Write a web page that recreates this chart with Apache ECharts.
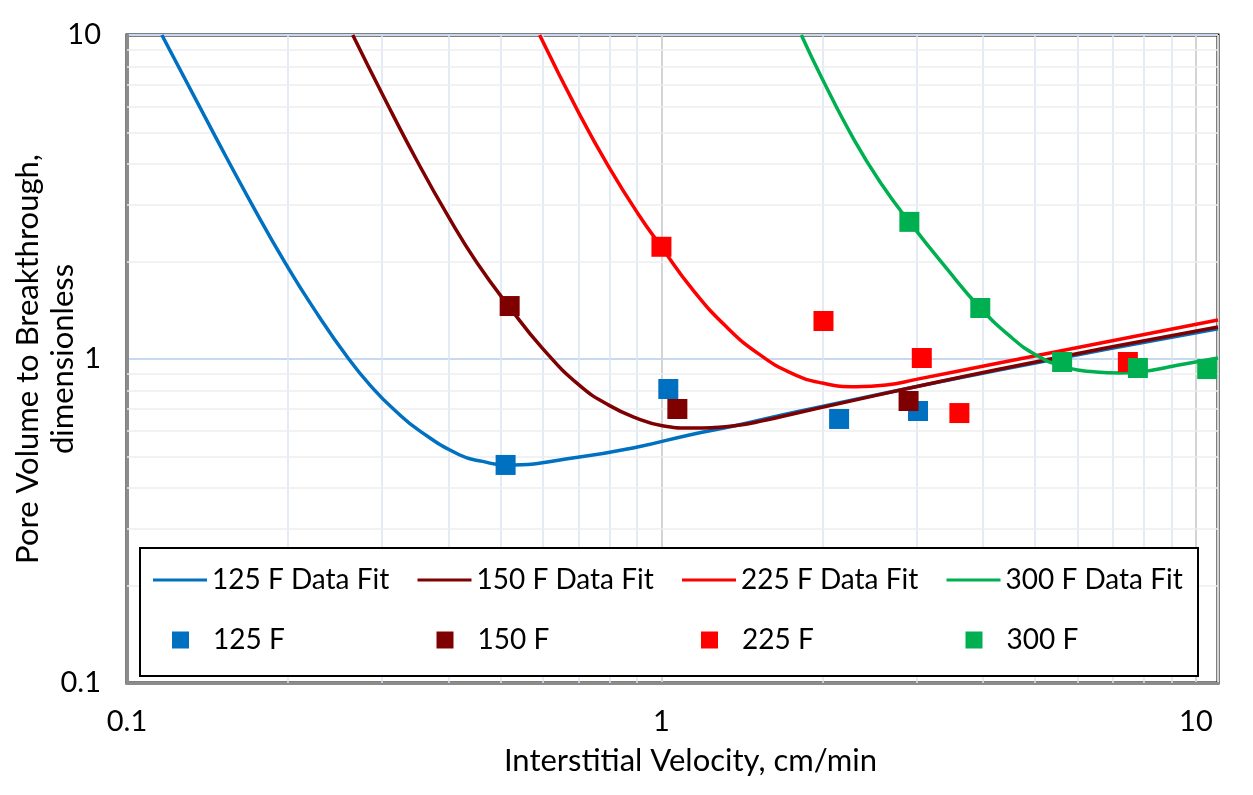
<!DOCTYPE html>
<html>
<head>
<meta charset="utf-8">
<script src="https://cdn.jsdelivr.net/npm/echarts@6/dist/echarts.min.js"></script>
<style>
html,body{margin:0;padding:0;background:#fff;}
#chart{width:1253px;height:795px;}
</style>
</head>
<body>
<div id="chart"></div>
<script>
// ---- data ----
const xTickLabels = ['0.1', '1', '10'];
const yTickLabels = ['0.1', '1', '10'];
const minorX = [0.2, 0.3, 0.4, 0.5, 0.6, 0.7, 0.8, 0.9, 2, 3, 4, 5, 6, 7, 8, 9];
const minorY = [0.2, 0.3, 0.4, 0.5, 0.6, 0.7, 0.8, 0.9, 2, 3, 4, 5, 6, 7, 8, 9];

const lineNames = ['125 F Data Fit', '150 F Data Fit', '225 F Data Fit', '300 F Data Fit'];
const pointNames = ['125 F', '150 F', '225 F', '300 F'];

const fit125 = [[0.1162,10],[0.146,4.89],[0.1727,2.927],[0.1982,1.966],[0.2227,1.446],[0.26,1],[0.2908,0.8],[0.3155,0.7],[0.3529,0.6],[0.4194,0.5055],[0.4628,0.483],[0.511,0.471],[0.7027,0.498],[0.902,0.535],[1.128,0.583],[1.358,0.62],[1.811,0.69],[4.28,0.925],[11,1.24]];
const fit150 = [[0.2645,10],[0.301,6.53],[0.3484,4.105],[0.4016,2.705],[0.451,1.99],[0.52,1.443],[0.599,1.079],[0.7027,0.829],[0.80,0.718],[0.898,0.657],[1.004,0.622],[1.128,0.612],[1.358,0.621],[1.571,0.648],[1.811,0.684],[4.28,0.93],[11,1.255]];
const fit225 = [[0.5916,10],[0.7027,5.69],[0.7996,3.884],[0.902,2.824],[1.0,2.217],[1.143,1.641],[1.323,1.257],[1.525,1.033],[1.758,0.901],[2.0,0.843],[2.315,0.821],[2.634,0.831],[2.997,0.865],[4.28,0.972],[11,1.32]];
const fit300 = [[1.827,10],[2.0,7.315],[2.295,4.74],[2.588,3.444],[2.91,2.65],[3.41,1.91],[3.95,1.437],[4.53,1.161],[5.02,1.029],[5.62,0.951],[6.5,0.912],[7.18,0.905],[7.83,0.912],[9.29,0.958],[11,1.007]];

const pts125 = [[0.511,0.471],[1.03,0.808],[2.15,0.653],[3.02,0.691]];
const pts150 = [[0.52,1.457],[1.071,0.701],[2.9,0.742]];
const pts225 = [[1.0,2.22],[2.01,1.31],[3.07,1.007],[3.61,0.681],[7.46,0.979]];
const pts300 = [[2.91,2.65],[3.95,1.437],[5.62,0.979],[7.79,0.938],[10.5,0.931]];

const colors = ['#0070C0', '#7F0000', '#FF0000', '#00B050'];
// -----------------------------------------------

const FONT = 'Lato';
const chart = echarts.init(document.getElementById('chart'), null, {renderer: 'canvas'});

function fmt(labels) {
  return function (v) {
    const s = String(+(+v).toPrecision(6));
    return labels.indexOf(s) >= 0 ? s : '';
  };
}

const fits = [fit125, fit150, fit225, fit300];
const pts = [pts125, pts150, pts225, pts300];

const series = [];
// minor gridlines drawn through the axes' own scales
series.push({
  name: 'grid', type: 'line', data: [], z: 1, silent: true,
  markLine: {
    z: 1, silent: true, symbol: ['none', 'none'], label: {show: false}, animation: false,
    data: minorX.map(v => ({xAxis: v, lineStyle: {color: '#d9e5f3', width: 1.5, type: 'solid'}}))
      .concat(minorY.map(v => ({yAxis: v, lineStyle: {color: '#eeeeee', width: 1.5, type: 'solid'}})))
  }
});
fits.forEach((d, i) => {
  series.push({
    name: lineNames[i], type: 'line', data: d, showSymbol: false, symbol: 'none',
    smooth: 0.5, z: 3,
    lineStyle: {color: colors[i], width: 3.5},
    itemStyle: {color: colors[i]}
  });
});
pts.forEach((d, i) => {
  series.push({
    name: pointNames[i], type: 'scatter', data: d, symbol: 'rect', symbolSize: 20, z: 5,
    itemStyle: {color: colors[i], opacity: 1}
  });
});

const COL = 264.5;
const legends = [];
lineNames.forEach((n, i) => {
  legends.push({
    data: [n], left: 153 + i * COL, top: 566, padding: 0, z: 6,
    itemWidth: 54, itemHeight: 14, icon: 'path://M0,5.5 L54,5.5 L54,8.5 L0,8.5 Z',
    textStyle: {color: '#000', fontSize: 28, fontFamily: FONT},
    selectedMode: false
  });
});
pointNames.forEach((n, i) => {
  legends.push({
    data: [n], left: 172 + i * COL, top: 626, padding: 0, z: 6,
    itemWidth: 17, itemHeight: 17, icon: 'rect',
    formatter: s => '{a|' + s + '}',
    textStyle: {color: '#000', fontSize: 28, fontFamily: FONT,
      rich: {a: {padding: [0, 0, 0, 19], color: '#000', fontSize: 28, fontFamily: FONT}}},
    selectedMode: false
  });
});

const option = {
  animation: false,
  backgroundColor: '#fff',
  textStyle: {fontFamily: FONT},
  grid: {
    left: 127, right: 35, top: 35, bottom: 112,
    outerBoundsMode: 'none', containLabel: false,
    show: true, borderColor: '#000', borderWidth: 3, backgroundColor: 'transparent'
  },
  xAxis: {
    type: 'log', logBase: 10, min: 0.1, max: 11,
    name: 'Interstitial Velocity, cm/min', nameLocation: 'middle', nameGap: 62, nameMoveOverlap: false,
    nameTextStyle: {color: '#000', fontSize: 31, fontFamily: FONT, padding: [0, 0, 0, 36]},
    axisLine: {show: true, lineStyle: {color: '#8c8c8c', width: 3}},
    axisTick: {show: false},
    axisLabel: {color: '#000', fontSize: 29, fontFamily: FONT, margin: 24, formatter: fmt(xTickLabels)},
    splitLine: {show: true, lineStyle: {color: '#d4d4d4', width: 2}},
    minorTick: {show: false}, minorSplitLine: {show: false}
  },
  yAxis: {
    type: 'log', logBase: 10, min: 0.1, max: 10,
    name: 'Pore Volume to Breakthrough,\ndimensionless', nameLocation: 'middle', nameGap: 47, nameMoveOverlap: false,
    nameTextStyle: {color: '#000', fontSize: 31, fontFamily: FONT, lineHeight: 35},
    axisLine: {show: true, lineStyle: {color: '#8c8c8c', width: 3}},
    axisTick: {show: false},
    axisLabel: {color: '#000', fontSize: 29, fontFamily: FONT, margin: 26, formatter: fmt(yTickLabels)},
    splitLine: {show: true, lineStyle: {color: '#c6d9ef', width: 2}},
    minorTick: {show: false}, minorSplitLine: {show: false}
  },
  graphic: [{
    type: 'rect', z: 3, silent: true,
    shape: {x: 140, y: 548, width: 1058, height: 128},
    style: {fill: '#fff', stroke: '#000', lineWidth: 2}
  }],
  legend: legends,
  series: series
};
chart.setOption(option);
</script>
</body>
</html>
